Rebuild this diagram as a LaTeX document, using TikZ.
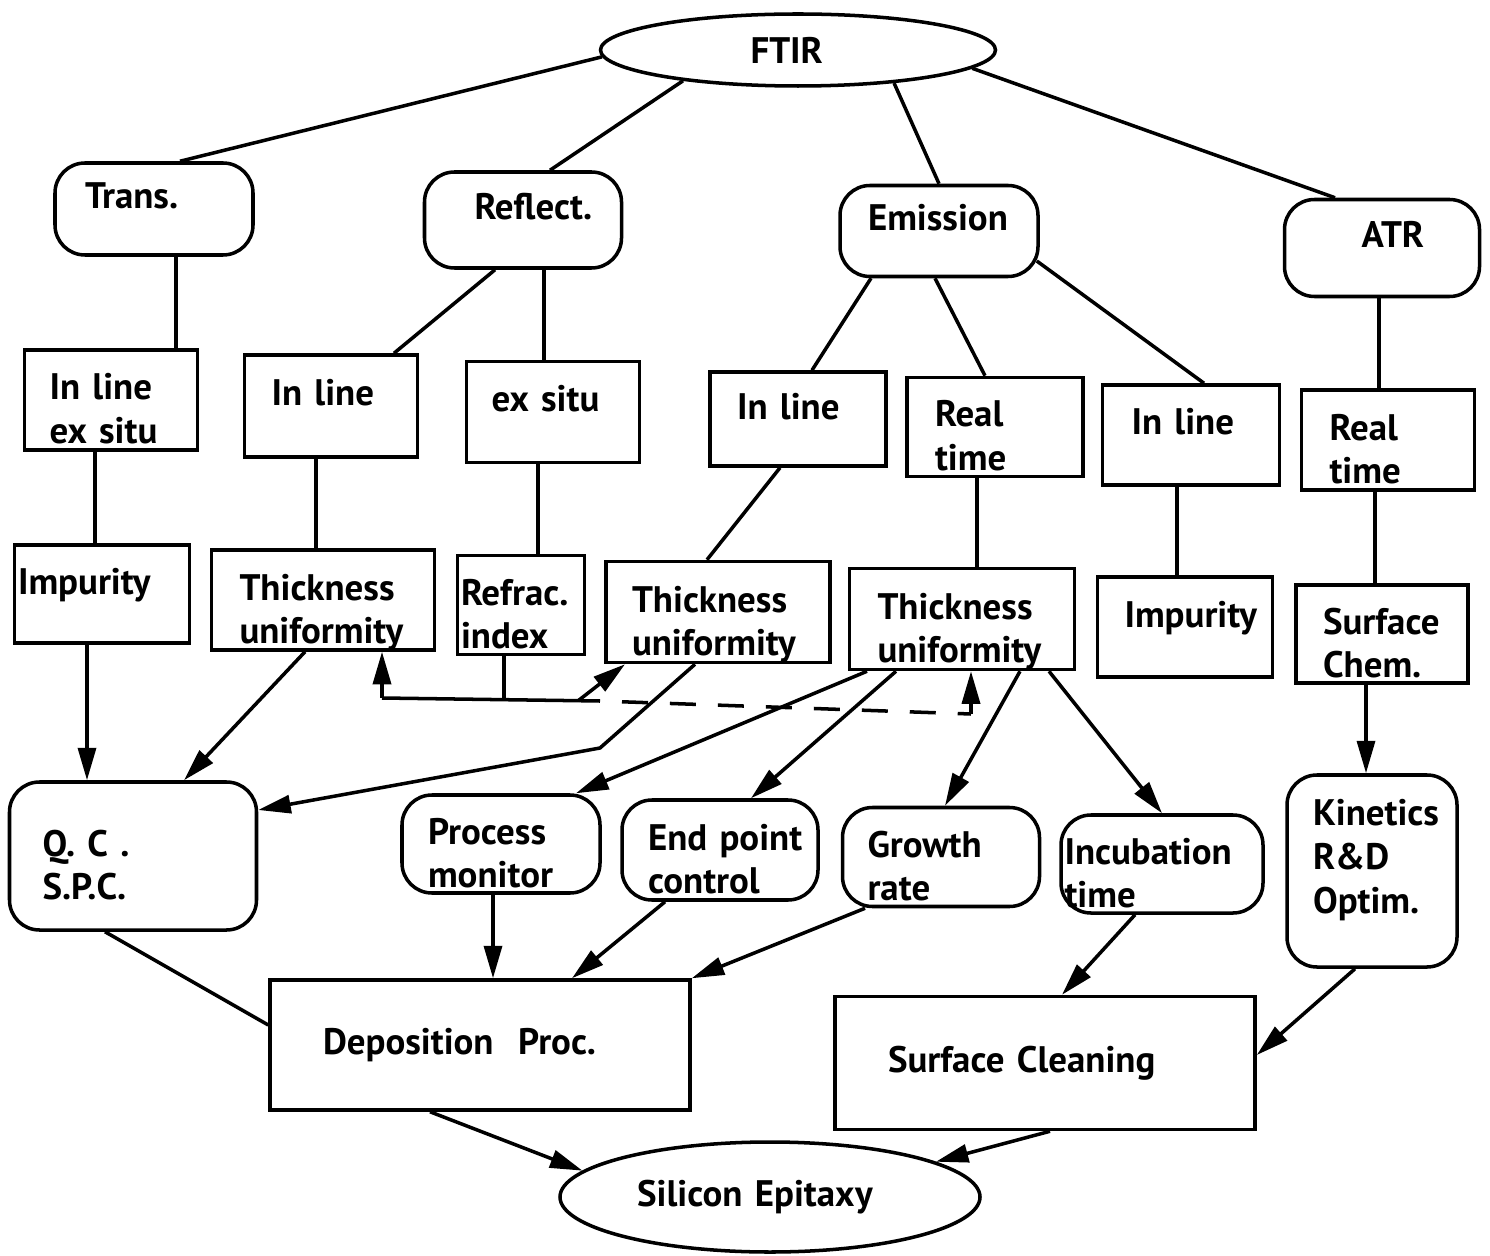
\documentclass[tikz,border=0pt]{standalone}
\usepackage{fontspec}
\setmainfont{PT Sans}
\usetikzlibrary{arrows.meta,calc,shapes.geometric}
\tikzset{
  sz/.style 2 args={minimum width=#1*0.02cm, minimum height=#2*0.02cm},
  sbox/.style={draw, line width=2pt, align=left, inner sep=2pt},
  rbox/.style={sbox, rounded corners=0.6cm},
  oval/.style={draw, ellipse, line width=2pt, inner sep=0pt, align=left},
  oneline/.style={text height=0.4cm, text depth=0.4cm},
  twoline/.style={text height=0.8cm, text depth=0.8cm},
  link/.style={line width=2pt},
  arr/.style={link, -{Triangle[length=0.65cm,width=0.36cm]}},
  fb/.style={link, dash pattern=on 0.52cm off 0.44cm, dash phase=0.52cm},
}
\begin{document}
\begin{tikzpicture}[x=0.02cm, y=-0.02cm, font=\fontsize{21}{25}\selectfont\bfseries]
\useasboundingbox (0,0) rectangle (1490,1256);

% top and methods
\node[oval, sz={395}{72}, text width=1.9cm] (ftir) at (798,50) {FTIR};
\node[rbox, sz={198}{92}, oneline, text width=2.76cm] (trans) at (154,209) {Trans.};
\node[rbox, sz={197}{96}, oneline, text width=1.94cm] (reflect) at (523,220) {Reflect.};
\node[rbox, sz={198}{91}, oneline, text width=2.84cm] (emission) at (939,231) {Emission};
\node[rbox, sz={195}{97}, oneline, text width=0.82cm] (atr) at (1382,248) {ATR};

% measurement mode
\node[sbox, sz={173}{100}, twoline, text width=2.46cm] (inl1) at (111,400) {In~line\\ex~situ};
\node[sbox, sz={173}{102}, oneline, text width=2.38cm] (inl2) at (331,406) {In~line};
\node[sbox, sz={173}{101}, oneline, text width=2.46cm] (exs) at (553,412) {ex~situ};
\node[sbox, sz={176}{94}, oneline, text width=2.44cm] (inl3) at (798,419) {In~line};
\node[sbox, sz={176}{99}, twoline, text width=2.40cm] (rt1) at (995,427) {Real\\time};
\node[sbox, sz={177}{100}, oneline, text width=2.38cm] (inl4) at (1191,435) {In~line};
\node[sbox, sz={173}{100}, twoline, text width=2.34cm] (rt2) at (1388,440) {Real\\time};

% measured quantity
\node[sbox, sz={175}{98}, oneline, text width=3.36cm] (imp1) at (102,594) {Impurity};
\node[sbox, sz={223}{100}, twoline, text width=3.34cm] (thk1) at (323,600) {Thickness\\uniformity};
\node[sbox, sz={127}{99}, twoline, text width=2.40cm] (refr) at (521,605) {Refrac.\\index};
\node[sbox, sz={224}{101}, twoline, text width=3.44cm] (thk2) at (718,612) {Thickness\\uniformity};
\node[sbox, sz={225}{101}, twoline, text width=3.38cm] (thk3) at (962,619) {Thickness\\uniformity};
\node[sbox, sz={175}{100}, oneline, text width=2.42cm] (imp2) at (1185,627) {Impurity};
\node[sbox, sz={172}{98}, twoline, text width=2.36cm] (surf) at (1382,634) {Surface\\Chem.};

% applications
\node[rbox, sz={247}{148}, twoline, text width=3.62cm] (qc) at (133,856) {Q.~C~.\\S.P.C.};
\node[rbox, sz={198}{98}, twoline, text width=2.92cm] (pm) at (501,844) {Process\\monitor};
\node[rbox, sz={196}{100}, twoline, text width=2.88cm] (ep) at (720,850) {End~point\\control};
\node[rbox, sz={197}{99}, twoline, text width=2.94cm] (gr) at (941,857) {Growth\\rate};
\node[rbox, sz={199}{98}, twoline, text width=3.90cm] (inc) at (1162,864) {Incubation\\time};
\node[rbox, sz={170}{192}, text height=0.3cm, text depth=2.12cm, text width=2.36cm] (kin) at (1372,871) {Kinetics\\R\&D\\Optim.};

% processes
\node[sbox, sz={420}{130}, text width=6.28cm] (dep) at (480,1045) {Deposition~~Proc.};
\node[sbox, sz={420}{133}, text width=6.28cm] (scl) at (1045,1063) {Surface~Cleaning};
\node[oval, sz={420}{110}, text width=5.32cm] (si) at (770,1197) {Silicon~Epitaxy};

\draw[link] (ftir.182) -- ($(trans.north)+(26,0)$);
\draw[link] (ftir.195) -- ($(reflect.north)+(27,0)$);
\draw[link] (ftir.341) -- (emission.north);
\draw[link] (ftir.354) -- ($(atr.north)+(-47,0)$);

\draw[link] ($(trans.south)+(22,0)$) coordinate (t1) -- (t1 |- inl1.north);
\draw[link] ($(reflect.south)+(-28,0)$) -- ($(inl2.north)+(63,0)$);
\draw[link] ($(reflect.south)+(21,0)$) coordinate (r1) -- (r1 |- exs.north);
\draw[link] ($(emission.south)+(-68,0)$) -- ($(inl3.north)+(14,0)$);
\draw[link] ($(emission.south)+(-4,0)$) -- ($(rt1.north)+(-10,0)$);
\draw[link] ($(emission.east)+(-3,30)$) -- ($(inl4.north)+(13,0)$);
\draw[link] ($(atr.south)+(-3,0)$) coordinate (a1) -- (a1 |- rt2.north);

\draw[link] ($(inl1.south)+(-16,0)$) coordinate (b1) -- (b1 |- imp1.north);
\draw[link] ($(inl2.south)+(-15,0)$) coordinate (b2) -- (b2 |- thk1.north);
\draw[link] ($(exs.south)+(-15,0)$) coordinate (b3) -- (b3 |- refr.north);
\draw[link] ($(inl3.south)+(-18,0)$) -- ($(thk2.north)+(-11,0)$);
\draw[link] ($(rt1.south)+(-18,0)$) coordinate (b5) -- (b5 |- thk3.north);
\draw[link] ($(inl4.south)+(-14,0)$) coordinate (b6) -- (b6 |- imp2.north);
\draw[link] ($(rt2.south)+(-13,0)$) coordinate (b7) -- (b7 |- surf.north);

\draw[arr] ($(imp1.south)+(-15,0)$) coordinate (c1) -- (c1 |- qc.north);
\draw[arr] ($(thk1.south)+(-18,0)$) -- ($(qc.north)+(51,0)$);
\coordinate (bend) at (600,748);
\draw[arr] ($(thk2.south)+(-23,0)$) -- (bend) -- ($(qc.east)+(0,-46)$);
\draw[arr] ($(thk3.south)+(-95,0)$) -- ($(pm.north)+(75,0)$);
\draw[arr] ($(thk3.south)+(-66,0)$) -- ($(ep.north)+(31,0)$);
\draw[arr] ($(thk3.south)+(58,0)$) -- ($(gr.north)+(4,0)$);
\draw[arr] ($(thk3.south)+(87,0)$) -- (inc.north);
\draw[arr] ($(surf.south)+(-16,0)$) coordinate (c9) -- (c9 |- kin.north);

% feedback loop
\coordinate (fbL) at (382,698);
\coordinate (fbM) at (600,701);
\coordinate (fbR) at (971,714);
\draw[link] ($(refr.south)+(-17,0)$) coordinate (e1) -- (e1 |- fbL);
\draw[arr] (fbL) -- (fbL |- thk1.south);
\draw[link] (fbL) -- (fbM);
\draw[arr] ($(fbL)!0.9!(fbM)$) -- ($(thk2.south)+(-93,0)$);
\draw[fb] (fbM) -- (fbR);
\draw[arr] (fbR) -- (fbR |- thk3.south);

\draw[link] ($(qc.south)+(-28,0)$) -- ($(dep.west)+(0,-20)$);
\draw[arr] ($(pm.south)+(-8,0)$) coordinate (d1) -- (d1 |- dep.north);
\draw[arr] ($(ep.south)+(-55,0)$) -- ($(dep.north)+(92,0)$);
\draw[arr] ($(gr.south)+(-76,0)$) -- (dep.north east);
\draw[arr] ($(inc.south)+(-27,0)$) -- ($(scl.north)+(17,0)$);
\draw[arr] ($(kin.south)+(-17,0)$) -- ($(scl.east)+(0,-8)$);
\draw[arr] ($(dep.south)+(-50,0)$) -- (si.172);
\draw[arr] ($(scl.south)+(5,0)$) -- (si.12);
\end{tikzpicture}
\end{document}
